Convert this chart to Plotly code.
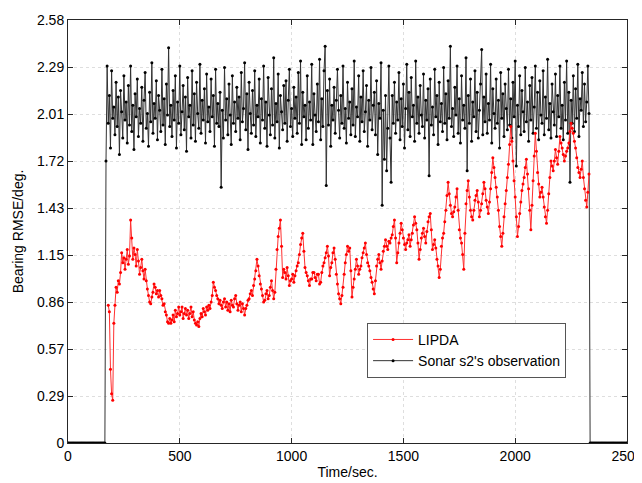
import plotly.graph_objects as go

# ---------------- data ----------------
# LIPDA bearing RMSE, sampled every 5 s from t = 180 s to 2330 s
lipda_start, lipda_step = 180, 5
lipda_rmse = [
    0.84, 0.80, 0.45, 0.30, 0.26, 0.73, 0.84, 0.95, 0.92, 0.99, 0.97, 1.04, 1.16, 1.10, 1.13, 1.06, 1.12, 1.18, 1.09, 1.14,
    1.36, 1.25, 1.12, 1.19, 1.15, 1.08, 1.18, 1.11, 1.03, 1.07, 1.12, 1.05, 1.00, 1.06, 0.99, 0.94, 0.90, 0.86, 0.85, 0.89,
    0.92, 0.97, 0.95, 0.91, 0.93, 0.89, 0.93, 0.90, 0.88, 0.84, 0.85, 0.80, 0.78, 0.74, 0.73, 0.76, 0.73, 0.75, 0.78, 0.74,
    0.81, 0.77, 0.79, 0.83, 0.78, 0.80, 0.83, 0.76, 0.79, 0.82, 0.78, 0.81, 0.76, 0.79, 0.83, 0.77, 0.80, 0.75, 0.73, 0.72,
    0.74, 0.71, 0.76, 0.79, 0.77, 0.82, 0.80, 0.78, 0.83, 0.81, 0.84, 0.82, 0.86, 0.90, 0.98, 0.95, 0.93, 0.90, 0.88, 0.85,
    0.87, 0.84, 0.82, 0.86, 0.88, 0.83, 0.86, 0.81, 0.85, 0.80, 0.87, 0.84, 0.83, 0.88, 0.90, 0.85, 0.81, 0.84, 0.86, 0.80,
    0.85, 0.82, 0.78, 0.82, 0.84, 0.87, 0.88, 0.91, 0.93, 0.90, 0.96, 1.00, 1.05, 1.12, 1.08, 1.02, 0.97, 0.94, 0.90, 0.86,
    0.87, 0.91, 0.93, 0.88, 0.90, 0.95, 0.99, 0.93, 0.88, 0.92, 1.06, 1.18, 1.26, 1.31, 1.36, 1.20, 1.01, 1.06, 1.04, 1.00,
    1.07, 1.02, 0.96, 0.99, 1.00, 1.03, 0.98, 1.02, 1.05, 1.08, 1.10, 1.15, 1.21, 1.25, 1.28, 1.17, 1.07, 1.04, 1.02, 0.99,
    0.96, 1.00, 1.00, 1.04, 1.04, 1.01, 0.99, 1.03, 1.03, 0.97, 0.98, 1.04, 1.08, 1.10, 1.13, 1.16, 1.20, 1.14, 1.02, 1.07,
    1.10, 1.16, 1.19, 1.12, 1.03, 0.97, 0.91, 0.88, 0.85, 0.90, 0.95, 1.03, 1.10, 1.15, 1.20, 1.17, 1.19, 1.05, 0.89, 0.95,
    1.00, 1.06, 1.12, 1.08, 1.03, 1.06, 1.08, 1.13, 1.16, 1.19, 1.22, 1.15, 1.10, 1.08, 1.05, 1.01, 0.98, 0.94, 0.91, 0.99,
    1.08, 1.12, 1.15, 1.10, 1.06, 1.11, 1.17, 1.20, 1.24, 1.20, 1.18, 1.23, 1.22, 1.25, 1.27, 1.32, 1.36, 1.25, 1.10, 1.16,
    1.22, 1.28, 1.34, 1.30, 1.25, 1.21, 1.18, 1.22, 1.24, 1.27, 1.20, 1.24, 1.28, 1.33, 1.38, 1.34, 1.30, 1.22, 1.12, 1.18,
    1.25, 1.28, 1.31, 1.26, 1.22, 1.29, 1.35, 1.38, 1.40, 1.30, 1.18, 1.21, 1.24, 1.19, 1.12, 1.08, 1.01, 1.06, 1.20, 1.25,
    1.28, 1.35, 1.42, 1.51, 1.59, 1.52, 1.45, 1.40, 1.38, 1.41, 1.44, 1.50, 1.55, 1.42, 1.30, 1.25, 1.22, 1.15, 1.06, 1.28,
    1.46, 1.54, 1.60, 1.50, 1.42, 1.38, 1.36, 1.42, 1.48, 1.51, 1.54, 1.47, 1.38, 1.42, 1.46, 1.52, 1.59, 1.55, 1.48, 1.44,
    1.40, 1.47, 1.55, 1.65, 1.74, 1.68, 1.62, 1.56, 1.50, 1.42, 1.32, 1.26, 1.20, 1.28, 1.38, 1.46, 1.54, 1.62, 1.70, 1.82,
    1.93, 1.84, 1.72, 1.60, 1.50, 1.38, 1.26, 1.32, 1.40, 1.47, 1.54, 1.58, 1.62, 1.68, 1.73, 1.64, 1.55, 1.42, 1.30, 1.45,
    1.60, 1.75, 1.89, 1.78, 1.65, 1.58, 1.50, 1.53, 1.56, 1.50, 1.44, 1.38, 1.34, 1.42, 1.52, 1.62, 1.72, 1.69, 1.66, 1.72,
    1.79, 1.74, 1.70, 1.78, 1.87, 1.83, 1.80, 1.76, 1.72, 1.75, 1.78, 1.80, 1.83, 1.90, 1.95, 1.92, 1.89, 1.84, 1.80, 1.74,
    1.68, 1.65, 1.62, 1.67, 1.72, 1.62, 1.55, 1.48, 1.44, 1.53, 1.64,
]

# Sonar s2's observation error, sampled every 5 s from t = 0 s to 2500 s
sonar_start, sonar_step = 0, 5
sonar_rmse = (
    [0.0] * 34 +  # 0 .. 165 s: no observation
    [
        1.72, 2.30, 1.95, 2.12, 1.80, 2.27, 1.98, 2.05, 1.88, 2.20, 1.93, 2.11, 1.76, 2.15, 2.02, 1.86, 2.24, 1.97, 2.08, 1.83,
        2.18, 1.94, 2.30, 1.90, 2.06, 1.79, 2.13, 1.99, 2.22, 1.87, 2.04, 1.95, 2.17, 1.84, 2.09, 2.26, 1.92, 2.01, 1.81, 2.14,
        1.96, 2.32, 1.89, 2.07, 1.98, 2.21, 1.85, 2.12, 2.03, 1.90, 2.28, 1.94, 2.10, 1.82, 2.19, 2.00, 2.41, 1.93, 2.06, 1.87,
        2.15, 1.97, 2.24, 1.80, 2.08, 1.95, 2.30, 1.88, 2.02, 2.18, 1.91, 2.11, 1.78, 2.23, 1.99, 2.06, 1.86, 2.27, 1.94, 2.13,
        1.84, 2.20, 2.01, 1.92, 2.31, 1.89, 2.09, 1.97, 2.16, 1.83, 2.25, 1.96, 2.05, 1.90, 2.22, 1.99, 2.12, 1.81, 2.28, 1.95,
        2.07, 1.93, 2.14, 1.56, 2.03, 1.86, 2.29, 1.97, 2.10, 1.88, 2.19, 2.00, 1.82, 2.24, 1.95, 2.08, 1.90, 2.17, 1.98, 2.11,
        1.85, 2.26, 1.96, 2.04, 2.32, 1.91, 2.13, 1.79, 2.20, 2.01, 1.89, 2.15, 1.94, 2.27, 1.87, 2.06, 1.99, 2.22, 1.83, 2.10,
        1.97, 2.30, 1.92, 2.08, 1.81, 2.23, 2.00, 1.88, 2.16, 1.94, 2.35, 1.86, 2.07, 1.96, 2.25, 1.80, 2.12, 2.02, 1.91, 2.18,
        1.95, 2.21, 1.84, 2.09, 2.28, 1.93, 2.04, 1.87, 2.17, 1.98, 2.11, 1.89, 2.26, 1.95, 2.33, 1.82, 2.14, 1.99, 2.06, 1.85,
        2.24, 1.92, 2.08, 1.97, 2.31, 1.82, 2.13, 2.00, 1.90, 2.19, 1.96, 2.34, 1.85, 2.10, 1.93, 2.27, 2.42, 1.57, 2.15, 1.94,
        2.22, 1.81, 2.06, 1.97, 2.17, 1.89, 2.09, 2.28, 2.03, 1.86, 2.12, 1.95, 2.30, 1.92, 2.04, 1.83, 2.20, 1.98, 2.08, 1.88,
        2.16, 1.94, 2.33, 1.87, 2.05, 1.99, 2.24, 1.84, 2.11, 1.96, 2.27, 1.90, 2.02, 2.18, 1.81, 2.09, 1.97, 2.29, 1.91, 2.06,
        2.14, 1.88, 2.21, 1.76, 2.07, 1.98, 2.32, 1.45, 2.03, 1.73, 2.12, 1.66, 1.92, 2.30, 1.86, 1.59, 2.12, 1.95, 2.20, 1.89,
        2.08, 1.97, 2.26, 1.85, 2.10, 1.93, 2.19, 1.80, 2.04, 2.31, 1.91, 2.14, 1.87, 2.23, 1.99, 2.06, 1.84, 2.33, 1.95, 2.11,
        1.89, 2.18, 2.00, 1.93, 2.25, 1.86, 2.09, 1.97, 2.16, 1.63, 2.22, 1.94, 2.05, 1.88, 2.28, 1.99, 2.12, 1.82, 2.20, 1.96,
        2.07, 1.90, 2.29, 1.95, 2.13, 1.85, 2.21, 1.98, 2.42, 1.93, 2.04, 1.87, 2.17, 2.00, 2.30, 1.89, 2.10, 1.83, 2.24, 1.97,
        2.06, 1.92, 2.35, 1.66, 2.12, 1.95, 2.22, 1.84, 2.08, 1.99, 2.27, 1.90, 2.14, 1.86, 2.03, 2.19, 2.40, 1.88, 2.11, 1.96,
        2.25, 1.89, 2.07, 1.97, 2.31, 1.83, 2.16, 2.01, 1.92, 2.22, 1.95, 2.09, 1.80, 2.26, 1.98, 2.13, 1.87, 2.19, 2.04, 1.91,
        2.28, 1.94, 2.10, 1.86, 2.20, 1.99, 2.33, 1.69, 2.06, 1.93, 2.24, 1.88, 2.15, 2.02, 1.90, 2.29, 1.96, 2.08, 1.84, 2.18,
        1.97, 2.23, 1.89, 2.05, 2.30, 1.92, 2.14, 1.85, 2.21, 2.00, 1.95, 2.27, 1.88, 2.11, 1.98, 2.34, 1.91, 2.07, 1.86, 2.19,
        2.02, 1.94, 2.25, 1.87, 2.12, 1.99, 2.30, 1.92, 2.06, 1.85, 2.20, 1.97, 2.33, 1.89, 2.14, 1.59, 2.09, 1.95, 2.24, 1.90,
        2.16, 1.98, 2.31, 1.87, 2.10, 2.03, 2.26, 1.93, 2.19, 1.96, 2.08, 2.30, 2.01,
    ] +
    [0.0] * 34    # 2335 .. 2500 s: no observation
)

y_max = 2.58
y_tick_labels = ["0", "0.29", "0.57", "0.86", "1.15", "1.43", "1.72", "2.01", "2.29", "2.58"]
x_tick_vals = [0, 500, 1000, 1500, 2000, 2500]

lipda_t = [lipda_start + i * lipda_step for i in range(len(lipda_rmse))]
sonar_t = [sonar_start + i * sonar_step for i in range(len(sonar_rmse))]
y_tick_vals = [y_max * i / (len(y_tick_labels) - 1) for i in range(len(y_tick_labels))]

# ---------------- figure ----------------
fig = go.Figure()
fig.add_trace(go.Scatter(
    x=sonar_t, y=sonar_rmse, mode="lines+markers",
    name="Sonar s2's observation", legendrank=2,
    line=dict(color="#333333", width=1),
    marker=dict(color="black", size=3),
))
fig.add_trace(go.Scatter(
    x=lipda_t, y=lipda_rmse, mode="lines+markers",
    name="LIPDA", legendrank=1,
    line=dict(color="#ff3030", width=1),
    marker=dict(color="red", size=3),
))

axis_font = dict(family="Liberation Sans, Arial, sans-serif", size=14, color="black")
# the page body adds an 8 px offset, so the figure is sized to fit the window after it
fig.update_layout(
    width=634, height=475,
    margin=dict(l=60, r=15, t=12, b=40, autoexpand=False),
    paper_bgcolor="white", plot_bgcolor="white",
    font=axis_font,
    showlegend=True,
    legend=dict(
        x=0.535, y=0.284, xanchor="left", yanchor="top",
        bgcolor="white", bordercolor="#555555", borderwidth=1,
        font=dict(family="Liberation Sans, Arial, sans-serif", size=14, color="black"),
        tracegroupgap=0, itemwidth=40,
    ),
)
fig.update_xaxes(
    range=[0, 2500], tickvals=x_tick_vals, automargin=False,
    ticklabeloverflow="allow",
    ticks="inside", ticklen=5, tickcolor="#262626",
    showline=True, linecolor="#262626", linewidth=1, mirror="ticks",
    showgrid=True, gridcolor="#dedede", griddash="dot", gridwidth=1,
    zeroline=False,
    title=dict(text="Time/sec.", font=axis_font, standoff=4),
    tickfont=axis_font,
)
fig.update_yaxes(
    range=[0, y_max], tickvals=y_tick_vals, ticktext=y_tick_labels, automargin=False,
    ticklabeloverflow="allow",
    ticks="inside", ticklen=5, tickcolor="#262626",
    showline=True, linecolor="#262626", linewidth=1, mirror="ticks",
    showgrid=True, gridcolor="#dedede", griddash="dot", gridwidth=1,
    zeroline=False,
    title=dict(text="Bearing RMSE/deg.", font=axis_font, standoff=10),
    tickfont=axis_font,
)

fig.write_html("out.html")
